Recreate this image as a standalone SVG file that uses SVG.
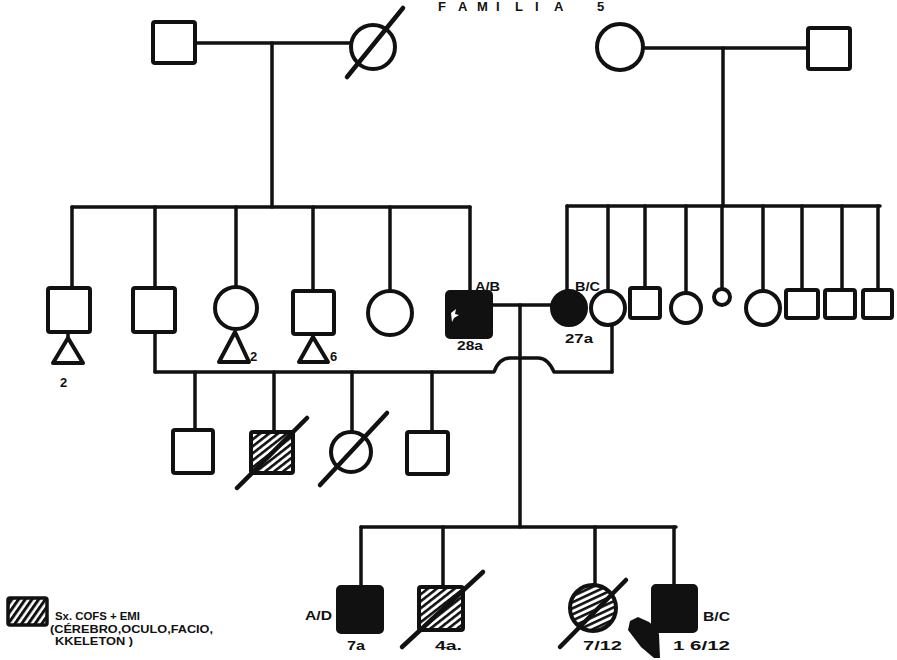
<svg xmlns="http://www.w3.org/2000/svg" width="897" height="660" viewBox="0 0 897 660">
<style>
  .ln{fill:none;stroke:#111;stroke-width:3.5;stroke-linecap:round;stroke-linejoin:round}
  .sh{fill:#fff;stroke:#111;stroke-width:4;stroke-linejoin:round}
  .af{fill:#111;stroke:#111;stroke-width:4;stroke-linejoin:round}
  .hs{fill:url(#hatchS);stroke:#111;stroke-width:4;stroke-linejoin:round}
  .hc{fill:url(#hatchC);stroke:#111;stroke-width:4}
  .hl{fill:url(#hatchL);stroke:#111;stroke-width:3.5}
  .sl{stroke:#111;stroke-width:4.5;stroke-linecap:round}
  .t{font-family:"Liberation Sans",Arial,sans-serif;font-weight:bold;font-size:13px;fill:#111}
  .lg{font-family:"Liberation Sans",Arial,sans-serif;font-weight:bold;font-size:11px;fill:#111}
</style>
<defs>
  <pattern id="hatchS" patternUnits="userSpaceOnUse" width="5.5" height="5.5" patternTransform="rotate(-38)">
    <rect width="5.5" height="5.5" fill="#fff"/><rect width="5.5" height="2.6" fill="#111"/>
  </pattern>
  <pattern id="hatchC" patternUnits="userSpaceOnUse" width="5.5" height="5.5" patternTransform="rotate(-25)">
    <rect width="5.5" height="5.5" fill="#fff"/><rect width="5.5" height="2.6" fill="#111"/>
  </pattern>
  <pattern id="hatchL" patternUnits="userSpaceOnUse" width="5.5" height="5.5" patternTransform="rotate(-55)">
    <rect width="5.5" height="5.5" fill="#fff"/><rect width="5.5" height="3" fill="#111"/>
  </pattern>
</defs>
<rect width="897" height="660" fill="#fff"/>

<g id="title">
  <text class="t" x="438 458 477 496 515 535 554 597" y="11" font-size="12">FAMILIA5</text>
</g>

<g id="connectors">
  <!-- top left couple -->
  <path class="ln" d="M195 43 H352"/>
  <path class="ln" d="M272 43 V207"/>
  <!-- left sibship -->
  <path class="ln" d="M72 207 H470"/>
  <path class="ln" d="M72 207 V288"/>
  <path class="ln" d="M155 207 V288"/>
  <path class="ln" d="M236 207 V287"/>
  <path class="ln" d="M313 207 V291"/>
  <path class="ln" d="M390 207 V291"/>
  <path class="ln" d="M470 207 V292"/>
  <!-- triangle stems -->
  <path class="ln" d="M68 332 V338"/>
  <path class="ln" d="M313 334 V337"/>
  <!-- top right couple -->
  <path class="ln" d="M643 48 H808"/>
  <path class="ln" d="M723 48 V206"/>
  <!-- right sibship -->
  <path class="ln" d="M567 206 H880"/>
  <path class="ln" d="M567 206 V291"/>
  <path class="ln" d="M608 206 V291"/>
  <path class="ln" d="M645 206 V288"/>
  <path class="ln" d="M686 206 V293"/>
  <path class="ln" d="M722 206 V289"/>
  <path class="ln" d="M763 206 V291"/>
  <path class="ln" d="M802 206 V290"/>
  <path class="ln" d="M842 206 V290"/>
  <path class="ln" d="M878 206 V290"/>
  <!-- middle couple -->
  <path class="ln" d="M491 305 H552"/>
  <path class="ln" d="M520 305 V527"/>
  <!-- lower sibship (male II-2 x female) -->
  <path class="ln" d="M155 332 V372"/>
  <path class="ln" d="M612 325 V372"/>
  <path class="ln" d="M155 372 H494 Q499 358 510 358 H538 Q548 358 554 372 H612"/>
  <path class="ln" d="M195 372 V430"/>
  <path class="ln" d="M274 372 V432"/>
  <path class="ln" d="M352 372 V432"/>
  <path class="ln" d="M432 372 V432"/>
  <!-- bottom sibship -->
  <path class="ln" d="M361 527 H676"/>
  <path class="ln" d="M361 527 V587"/>
  <path class="ln" d="M443 527 V587"/>
  <path class="ln" d="M595 527 V585"/>
  <path class="ln" d="M674 527 V586"/>
</g>

<!-- generation I -->
<g id="g1m1"><rect class="sh" x="153" y="22" width="42" height="41" rx="2"/></g>
<g id="g1f1"><circle class="sh" cx="373" cy="47" r="22"/><line class="sl" x1="347" y1="77" x2="403" y2="8"/></g>
<g id="g1f2"><circle class="sh" cx="620" cy="47" r="23"/></g>
<g id="g1m2"><rect class="sh" x="808" y="28" width="42" height="41" rx="2"/></g>

<!-- generation II left -->
<g id="g2a"><rect class="sh" x="48" y="288" width="42" height="44" rx="2"/>
  <polygon class="sh" points="68,338 83,363 53,363"/>
  <text class="t" x="60" y="387">2</text></g>
<g id="g2b"><rect class="sh" x="133" y="288" width="42" height="44" rx="2"/></g>
<g id="g2c"><circle class="sh" cx="236" cy="308" r="21"/>
  <polygon class="sh" points="235,332 249,362 219,362"/>
  <text class="t" x="250" y="361">2</text></g>
<g id="g2d"><rect class="sh" x="293" y="291" width="41" height="43" rx="2"/>
  <polygon class="sh" points="313,337 328,362 299,362"/>
  <text class="t" x="330" y="361">6</text></g>
<g id="g2e"><circle class="sh" cx="390" cy="313" r="22"/></g>
<g id="g2f"><rect class="af" x="447" y="292" width="44" height="45" rx="3"/>
  <polygon points="451,313 456,309 455,314 459,315 454,318 452,322" fill="#fff"/>
  <text class="t" x="475" y="291" textLength="25" lengthAdjust="spacingAndGlyphs">A/B</text>
  <text class="t" x="457" y="350" textLength="26" lengthAdjust="spacingAndGlyphs">28a</text></g>

<!-- generation II right -->
<g id="g2g"><circle class="af" cx="569" cy="308" r="17"/>
  <text class="t" x="575" y="291" textLength="25" lengthAdjust="spacingAndGlyphs">B/C</text>
  <text class="t" x="565" y="343" textLength="28" lengthAdjust="spacingAndGlyphs">27a</text></g>
<g id="g2h"><circle class="sh" cx="608" cy="308" r="17"/></g>
<g id="g2i"><rect class="sh" x="630" y="288" width="30" height="30" rx="2"/></g>
<g id="g2j"><circle class="sh" cx="686" cy="308" r="15"/></g>
<g id="g2k"><circle class="sh" cx="722" cy="297" r="8"/></g>
<g id="g2l"><circle class="sh" cx="763" cy="308" r="17"/></g>
<g id="g2m"><rect class="sh" x="786" y="290" width="32" height="28" rx="2"/></g>
<g id="g2n"><rect class="sh" x="825" y="290" width="30" height="28" rx="2"/></g>
<g id="g2o"><rect class="sh" x="863" y="290" width="29" height="28" rx="2"/></g>

<!-- generation III -->
<g id="g3a"><rect class="sh" x="173" y="430" width="40" height="43" rx="2"/></g>
<g id="g3b"><rect class="hs" x="251" y="432" width="42" height="41" rx="2"/><line class="sl" x1="237" y1="488" x2="307" y2="418"/></g>
<g id="g3c"><circle class="sh" cx="351" cy="452" r="20"/><line class="sl" x1="320" y1="485" x2="387" y2="413"/></g>
<g id="g3d"><rect class="sh" x="407" y="432" width="41" height="42" rx="2"/></g>

<!-- generation IV -->
<g id="g4a"><rect class="af" x="338" y="587" width="44" height="45" rx="3"/>
  <text class="t" x="305" y="620" textLength="27" lengthAdjust="spacingAndGlyphs">A/D</text>
  <text class="t" x="347" y="650" textLength="18" lengthAdjust="spacingAndGlyphs">7a</text></g>
<g id="g4b"><rect class="hs" x="419" y="587" width="44" height="43" rx="2"/><line class="sl" x1="402" y1="647" x2="483" y2="572"/>
  <text class="t" x="435" y="650" textLength="27" lengthAdjust="spacingAndGlyphs">4a.</text></g>
<g id="g4c"><circle class="hc" cx="593" cy="608" r="23"/><line class="sl" x1="560" y1="647" x2="626" y2="580"/>
  <text class="t" x="583" y="650" textLength="39" lengthAdjust="spacingAndGlyphs">7/12</text></g>
<g id="g4d"><rect class="af" x="653" y="586" width="43" height="45" rx="3"/>
  <text class="t" x="703" y="621" textLength="27" lengthAdjust="spacingAndGlyphs">B/C</text>
  <text class="t" x="673" y="650" textLength="57" lengthAdjust="spacingAndGlyphs">1 6/12</text>
  <polygon points="630,621 638,617 649,622 656,628 659,634 660,658 654,658 641,647 628,630" fill="#111"/></g>

<!-- legend -->
<g id="legend">
  <rect class="hl" x="8" y="598" width="39" height="27" rx="2"/>
  <text class="lg" x="55" y="620" textLength="85" lengthAdjust="spacingAndGlyphs">Sx. COFS + EMI</text>
  <text class="lg" x="50" y="632.5" textLength="163" lengthAdjust="spacingAndGlyphs">(CÉREBRO,OCULO,FACIO,</text>
  <text class="lg" x="55" y="645" textLength="78" lengthAdjust="spacingAndGlyphs">KKELETON )</text>
</g>
</svg>
